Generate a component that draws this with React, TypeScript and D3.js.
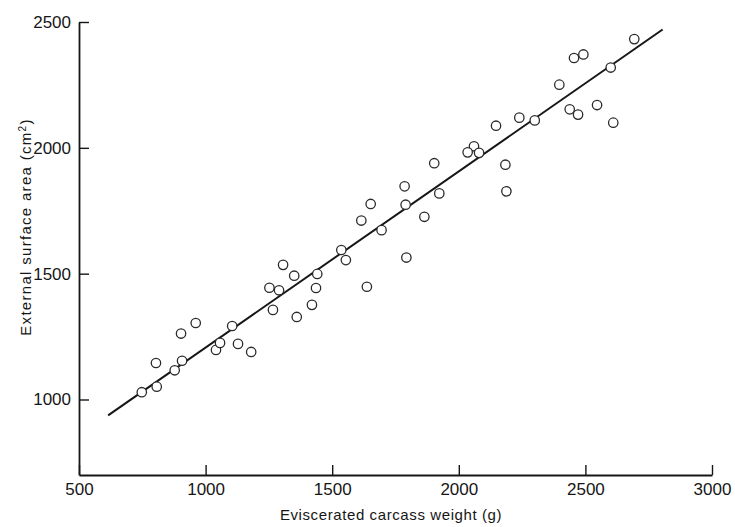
import React, { useEffect, useRef } from 'react'
import * as d3 from 'd3'

// carcass weight (g) and surface area (cm2)
const weights = [
  748, 807, 804, 878, 907, 903, 961, 1041, 1057, 1105, 1128, 1180, 1252, 1290, 1266, 1306, 1350,
  1360, 1420, 1436, 1441, 1536, 1554, 1903, 2184, 2188, 1786, 1652, 1923, 1790, 1615, 1864, 1695,
  1793, 1637, 2693, 2455, 2492, 2600, 2397, 2438, 2471, 2546, 2610, 2300, 2239, 2147, 2060, 2035,
  2080,
]
const areas = [
  1029, 1051, 1145, 1116, 1154, 1262, 1304, 1197, 1225, 1292, 1221, 1189, 1444, 1434, 1356, 1535,
  1492, 1328, 1376, 1443, 1499, 1594, 1554, 1939, 1933, 1827, 1847, 1777, 1819, 1774, 1711, 1726,
  1673, 1564, 1448, 2432, 2357, 2371, 2319, 2251, 2153, 2132, 2170, 2100, 2109, 2120, 2088, 2006,
  1982, 1980,
]

// fitted regression line endpoints
const fitX = [615, 2805]
const fitY = [937, 2470]

const xTicks = [500, 1000, 1500, 2000, 2500, 3000]
const yTicks = [1000, 1500, 2000, 2500]

export default function App() {
  const svgRef = useRef<SVGSVGElement>(null)

  useEffect(() => {
    document.body.style.margin = '0'
    if (!svgRef.current) return
    const svg = d3.select(svgRef.current)
    svg.selectAll('*').remove()

    const x = d3.scaleLinear().domain([500, 3000]).range([79, 712])
    const y = d3.scaleLinear().domain([700, 2500]).range([475, 22])
    const ink = '#161616'
    const font = '"Liberation Sans", Arial, sans-serif'

    const xAxis = svg
      .append('g')
      .attr('transform', `translate(0,${y(700)})`)
      .call(d3.axisBottom(x).tickValues(xTicks).tickFormat(d3.format('d')).tickSizeInner(-10).tickSizeOuter(0).tickPadding(8))
    const yAxis = svg
      .append('g')
      .attr('transform', `translate(${x(500)},0)`)
      .call(d3.axisLeft(y).tickValues(yTicks).tickFormat(d3.format('d')).tickSizeInner(-10).tickSizeOuter(0).tickPadding(8))

    for (const ax of [xAxis, yAxis]) {
      ax.select('.domain').attr('stroke', ink).attr('stroke-width', 1.8)
      ax.selectAll('.tick line').attr('stroke', ink).attr('stroke-width', 1.4)
      ax.selectAll('text')
        .style('font-family', font)
        .style('font-size', '17px')
        .attr('fill', ink)
    }

    // regression line
    const line = d3
      .line<number>()
      .x((d) => x(d))
      .y((_, i) => y(fitY[i]))
    svg
      .append('path')
      .attr('d', line(fitX))
      .attr('fill', 'none')
      .attr('stroke', ink)
      .attr('stroke-width', 2)

    svg
      .append('g')
      .selectAll('circle')
      .data(weights)
      .join('circle')
      .attr('cx', (d) => x(d))
      .attr('cy', (_, i) => y(areas[i]))
      .attr('r', 4.7)
      .attr('fill', 'white')
      .attr('stroke', '#2a2a2a')
      .attr('stroke-width', 1.3)

    svg
      .append('text')
      .attr('x', 391)
      .attr('y', 520)
      .attr('text-anchor', 'middle')
      .style('font-family', font)
      .style('font-size', '15px')
      .style('letter-spacing', '0.6px')
      .attr('fill', ink)
      .text('Eviscerated carcass weight (g)')

    const yt = svg
      .append('text')
      .attr('transform', `translate(31,${227}) rotate(-90)`)
      .attr('text-anchor', 'middle')
      .style('font-family', font)
      .style('font-size', '15px')
      .style('letter-spacing', '1.3px')
      .attr('fill', ink)
    yt.append('tspan').text('External surface area (cm')
    yt.append('tspan').attr('baseline-shift', 'super').style('font-size', '10px').text('2')
    yt.append('tspan').text(')')
  }, [])

  return <svg ref={svgRef} width={735} height={527} style={{ display: 'block', background: 'white' }} />
}
